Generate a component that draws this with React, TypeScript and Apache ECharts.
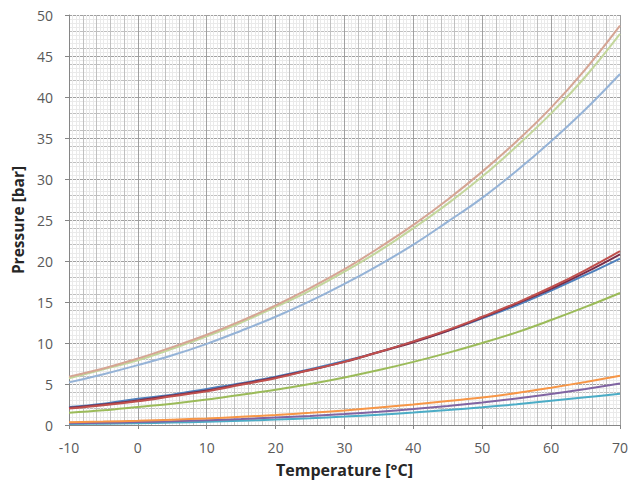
import React, { useEffect, useRef } from "react";
import * as echarts from "echarts";

const temps = [-10, -5, 0, 5, 10, 15, 20, 25, 30, 35, 40, 45, 50, 55, 60, 65, 70];

const tanVals = [5.9, 6.9, 8.1, 9.5, 11.0, 12.7, 14.6, 16.7, 19.0, 21.6, 24.4, 27.5, 30.9, 34.6, 38.7, 43.4, 48.7];
const lightGreenVals = [5.7, 6.8, 7.9, 9.3, 10.8, 12.5, 14.4, 16.4, 18.7, 21.2, 24.0, 27.0, 30.3, 34.0, 38.0, 42.5, 47.7];
const lightBlueVals = [5.2, 6.2, 7.3, 8.5, 9.9, 11.5, 13.2, 15.1, 17.2, 19.5, 22.0, 24.8, 27.7, 31.0, 34.6, 38.5, 42.8];
const blueVals = [2.2, 2.6, 3.2, 3.7, 4.4, 5.1, 5.9, 6.8, 7.8, 8.9, 10.2, 11.5, 13.0, 14.6, 16.4, 18.3, 20.3];
const maroonVals = [2.1, 2.5, 3.0, 3.6, 4.2, 5.0, 5.8, 6.7, 7.7, 8.9, 10.1, 11.5, 13.1, 14.8, 16.6, 18.6, 20.8];
const redVals = [2.0, 2.4, 2.9, 3.5, 4.1, 4.9, 5.7, 6.7, 7.7, 8.9, 10.2, 11.6, 13.2, 14.9, 16.8, 18.9, 21.2];
const greenVals = [1.5, 1.8, 2.2, 2.6, 3.1, 3.7, 4.3, 5.0, 5.8, 6.7, 7.7, 8.8, 10.0, 11.3, 12.8, 14.4, 16.1];
const orangeVals = [0.35, 0.42, 0.52, 0.65, 0.8, 1.0, 1.22, 1.48, 1.78, 2.12, 2.5, 2.93, 3.35, 3.9, 4.55, 5.25, 6.0];
const purpleVals = [0.22, 0.28, 0.36, 0.46, 0.58, 0.73, 0.9, 1.1, 1.34, 1.62, 1.95, 2.32, 2.75, 3.23, 3.77, 4.38, 5.05];
const tealVals = [0.12, 0.16, 0.22, 0.3, 0.4, 0.52, 0.66, 0.83, 1.03, 1.26, 1.52, 1.82, 2.15, 2.53, 2.95, 3.38, 3.8];

const xTitle = "Temperature [°C]";
const yTitle = "Pressure [bar]";

const curves: { vals: number[]; color: string }[] = [
  { vals: tealVals, color: "#4bacc6" },
  { vals: purpleVals, color: "#8064a2" },
  { vals: orangeVals, color: "#f79646" },
  { vals: greenVals, color: "#9bbb59" },
  { vals: blueVals, color: "#4f81bd" },
  { vals: maroonVals, color: "#772c4a" },
  { vals: redVals, color: "#c0504d" },
  { vals: lightBlueVals, color: "#95b3d7" },
  { vals: lightGreenVals, color: "#c3d69b" },
  { vals: tanVals, color: "#d5a594" },
];

const FONT = "'Open Sans', Lato, sans-serif";

export default function App() {
  const ref = useRef<HTMLDivElement>(null);
  useEffect(() => {
    if (!ref.current) return;
    const chart = echarts.init(ref.current, undefined, { renderer: "svg" });
    const hiddenAxisCommon = {
      axisLine: { show: false },
      axisTick: { show: false },
      axisLabel: { show: false },
    };
    chart.setOption({
      animation: false,
      backgroundColor: "#ffffff",
      grid: { left: 69, right: 10, top: 15, bottom: 61, containLabel: false },
      xAxis: [
        {
          type: "value",
          position: "bottom",
          min: -10,
          max: 70,
          interval: 2,
          ...hiddenAxisCommon,
          splitLine: { show: true, lineStyle: { color: "#c0c0c0", width: 1 } },
          minorTick: { show: false, splitNumber: 4 },
          minorSplitLine: { show: true, lineStyle: { color: "#eaeaea", width: 1 } },
        },
        {
          type: "value",
          position: "bottom",
          min: -10,
          max: 70,
          interval: 10,
          name: xTitle,
          nameLocation: "middle",
          nameGap: 37,
          nameTextStyle: { fontFamily: FONT, fontSize: 16, fontWeight: "bold", color: "#262626" },
          axisLine: { show: true, onZero: false, lineStyle: { color: "#868686", width: 1 } },
          axisTick: { show: true, length: 4, lineStyle: { color: "#868686" } },
          axisLabel: { fontFamily: FONT, fontSize: 14, color: "#595959", margin: 15 },
          splitLine: { show: true, lineStyle: { color: "#a0a0a0", width: 1 } },
        },
      ],
      yAxis: [
        {
          type: "value",
          position: "left",
          min: 0,
          max: 50,
          interval: 2,
          ...hiddenAxisCommon,
          splitLine: { show: true, lineStyle: { color: "#c0c0c0", width: 1 } },
          minorTick: { show: false, splitNumber: 4 },
          minorSplitLine: { show: true, lineStyle: { color: "#eaeaea", width: 1 } },
        },
        {
          type: "value",
          position: "left",
          min: 0,
          max: 50,
          interval: 5,
          name: yTitle,
          nameLocation: "middle",
          nameGap: 39,
          nameTextStyle: { fontFamily: FONT, fontSize: 15.5, fontWeight: "bold", color: "#262626" },
          axisLine: { show: true, onZero: false, lineStyle: { color: "#868686", width: 1 } },
          axisTick: { show: true, length: 4, lineStyle: { color: "#868686" } },
          axisLabel: { fontFamily: FONT, fontSize: 14, color: "#595959", margin: 16 },
          splitLine: { show: true, lineStyle: { color: "#a0a0a0", width: 1 } },
        },
      ],
      series: curves.map((c) => ({
        type: "line",
        xAxisIndex: 1,
        yAxisIndex: 1,
        smooth: 0.4,
        showSymbol: false,
        symbol: "none",
        lineStyle: { color: c.color, width: 2 },
        data: temps.map((t, i) => [t, c.vals[i]]),
      })),
    });
    return () => chart.dispose();
  }, []);
  return (
    <div
      ref={ref}
      style={{ position: "fixed", left: 0, top: 0, width: 631, height: 486 }}
    />
  );
}
